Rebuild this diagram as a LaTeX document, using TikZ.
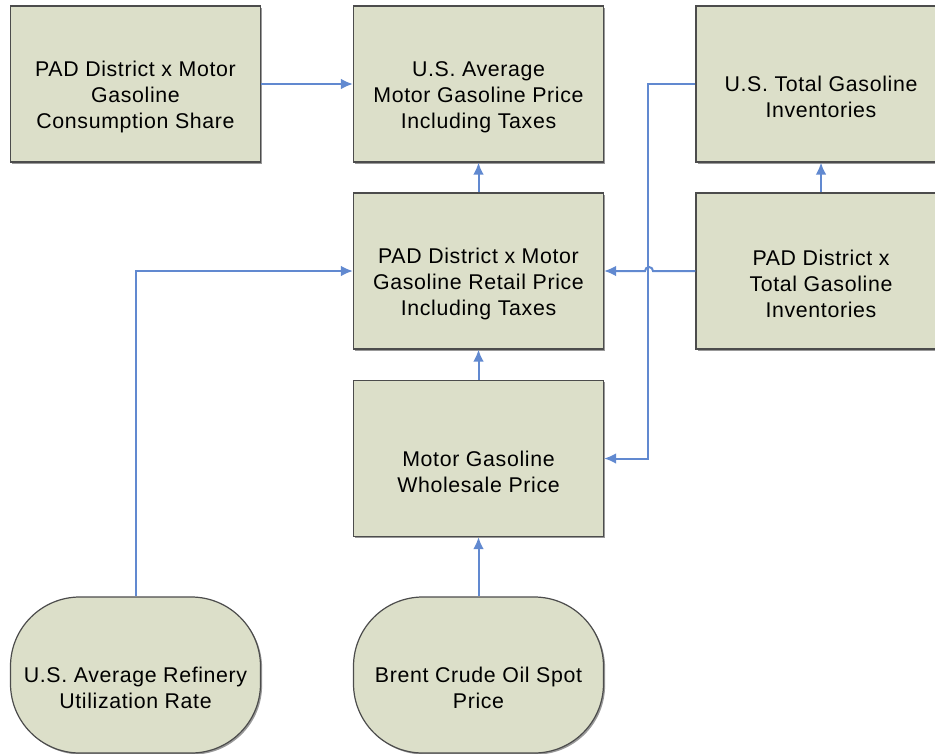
\documentclass[tikz,border=0pt]{standalone}
\usepackage{fontspec}
\setmainfont{Liberation Sans}[LetterSpace=3]
\usetikzlibrary{shadows,arrows.meta}

\definecolor{boxfill}{HTML}{DCDFC9}
\definecolor{linkblue}{HTML}{6189D0}

\tikzset{
	box/.style={draw=black!70, line width=0.9pt, fill=boxfill, minimum width=187.5pt, minimum height=117pt, inner sep=0pt,
		drop shadow={shadow xshift=1.2pt, shadow yshift=-1.2pt, fill=black!40, opacity=1}},
	roundbox/.style={box, rounded corners=52pt},
	txt/.style={align=center, font=\fontsize{16}{19.5}\selectfont, yshift=-10pt},
	link/.style={draw=linkblue, line width=1.5pt, -{Latex[length=9pt,width=8pt]}}
}

\begin{document}
\begin{tikzpicture}[x=0.75pt, y=-0.75pt]
	\useasboundingbox (0,0) rectangle (935,753);
	% boxes
	\node[box] (share) at (135.5,84) {};
	\node[box] (usprice) at (478.5,84) {};
	\node[box] (usinv) at (821,84) {};
	\node[box] (padinv) at (821,271) {};
	\node[box] (retail) at (478.5,271) {};
	\node[box] (wholesale) at (478.5,458.5) {};
	\node[roundbox] (refinery) at (135.5,675) {};
	\node[roundbox] (brent) at (478.5,675) {};
	% texts
	\node[txt] at (share) {PAD District x Motor\\Gasoline\\Consumption Share};
	\node[txt] at (usprice) {U.S. Average\\Motor Gasoline Price\\Including Taxes};
	\node[txt] at (usinv) {U.S. Total Gasoline\\Inventories};
	\node[txt] at (padinv) {PAD District x\\Total Gasoline\\Inventories};
	\node[txt] at (retail) {PAD District x Motor\\Gasoline Retail Price\\Including Taxes};
	\node[txt] at (wholesale) {Motor Gasoline\\Wholesale Price};
	\node[txt] at (refinery) {U.S. Average Refinery\\Utilization Rate};
	\node[txt] at (brent) {Brent Crude Oil Spot\\Price};
	% links
	\draw[link] (share) -- (usprice);
	\draw[link] (retail) -- (usprice);
	\draw[link] (padinv) -- (usinv);
	\draw[link] (wholesale) -- (retail);
	\draw[link] (brent) -- (wholesale);
	\draw[link] (refinery.north) |- (retail.west);
	\draw[link] (usinv.west) -- ++(-47,0) |- (wholesale.east);
	\draw[link] (padinv.west) -- (653,271) arc[start angle=0, end angle=180, radius=3pt] -- (retail.east);
\end{tikzpicture}
\end{document}
